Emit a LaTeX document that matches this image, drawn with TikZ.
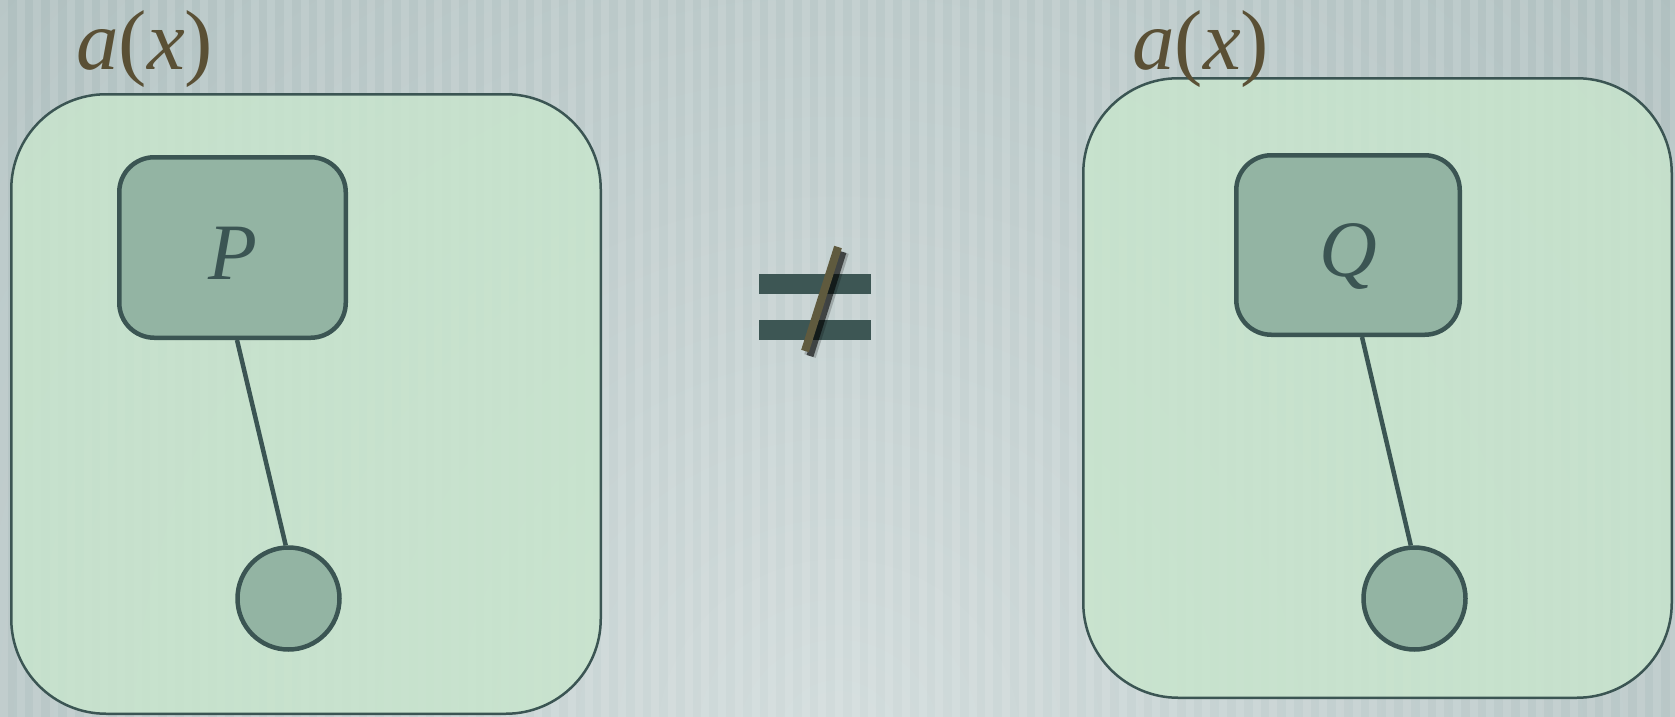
\documentclass[tikz,border=0pt]{standalone}
\usepackage{fontspec}
\setmainfont{Liberation Serif}
\definecolor{bgdark}{HTML}{A0B3B3}
\definecolor{bglight}{HTML}{D2DCDC}
\definecolor{outerfill}{HTML}{C8E5CD}
\definecolor{innerfill}{HTML}{93B4A3}
\definecolor{edge}{HTML}{3B5553}
\definecolor{barcol}{HTML}{3D5654}
\definecolor{lblcol}{HTML}{5A5035}
\definecolor{slashcol}{HTML}{5F5A3E}
\tikzset{
  outerbox/.style={draw=edge, line width=2.5pt, fill=outerfill, fill opacity=0.85, draw opacity=1,
    rounded corners=95pt, inner sep=0pt},
  innerbox/.style={draw=edge, line width=4.5pt, fill=innerfill, rounded corners=35pt, inner sep=0pt,
    text=edge, text height=63pt, text depth=0pt, font=\fontsize{80}{80}\selectfont\itshape},
  leaf/.style={circle, draw=edge, line width=4.5pt, fill=innerfill, minimum size=102pt, inner sep=0pt},
  link/.style={draw=edge, line width=4.5pt},
  lbl/.style={text=lblcol, inner sep=0pt, font=\fontsize{85}{85}\selectfont},
  bar/.style={fill=barcol},
}
\begin{document}
\begin{tikzpicture}[x=1pt,y=-1pt]
\useasboundingbox (0,0) rectangle (1675,717);
% background
\fill[bgdark] (0,0) rectangle (1675,717);
\begin{scope}
\clip (0,0) rectangle (1675,717);
\shade[inner color=bglight, outer color=bgdark] (838,740) circle (1650pt);
\foreach \i in {0,...,101}{
  \fill[white, opacity=0.12] ({\i*16.7},0) rectangle ({\i*16.7+8},717);
}
\end{scope}
% outer boxes
\node[outerbox, minimum width=589.5pt, minimum height=619.5pt] (L) at (306,404) {};
\node[outerbox, minimum width=588.5pt, minimum height=619.5pt] (R) at (1377.5,388) {};
% labels
\node[lbl, anchor=base west] (la) at (76,70) {\textit{a}(\textit{x})};
\node[lbl, anchor=base west] (ra) at (1132,70) {\textit{a}(\textit{x})};
% inner boxes
\node[innerbox, minimum width=226.5pt, minimum height=180.5pt] (P) at (232.5,247.5) {P};
\node[innerbox, minimum width=223.5pt, minimum height=179.5pt] (Q) at (1348,245) {Q};
% leaves
\node[leaf] (c1) at (288.5,598.5) {};
\node[leaf] (c2) at (1414.5,598.5) {};
% links
\draw[link] ([xshift=4.5pt]P.south) -- (c1.93);
\draw[link] ([xshift=14pt]Q.south) -- (c2.94);
% not-equal sign
\fill[bar] (759,274) rectangle (871,294);
\fill[bar] (759,320) rectangle (871,340);
\draw[black, opacity=0.2, line width=12pt] (843,252) -- (810,356);
\draw[black, opacity=0.6, line width=7pt] (843,252) -- (810,356);
\draw[slashcol, line width=8pt] (838,247) -- (805,351);
\end{tikzpicture}
\end{document}
